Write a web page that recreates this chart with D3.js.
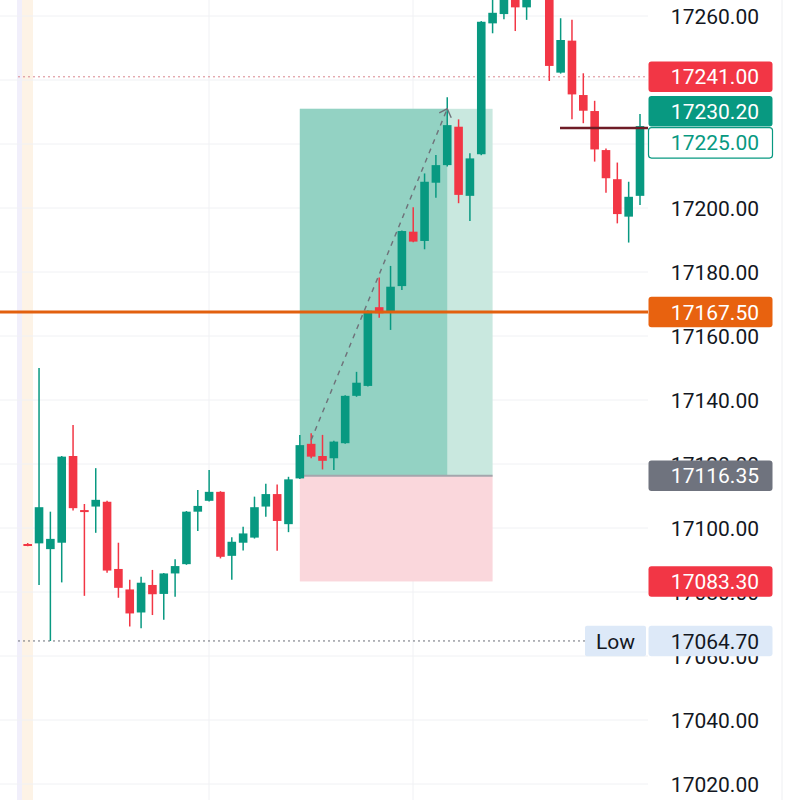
<!DOCTYPE html>
<html><head><meta charset="utf-8">
<script src="https://cdn.jsdelivr.net/npm/d3@7/dist/d3.min.js"></script>
<style>
html,body{margin:0;padding:0;background:#fff;}
svg{display:block;font-family:Roboto,"Noto Sans",sans-serif;}
</style></head>
<body><svg id="c" width="800" height="800"></svg>
<script>
// ---- data ----
const opens  = [17095.0,17095.2,17093.4,17095.4,17122.5,17105.6,17106.7,17108.2,17087.2,17080.8,
                17073.6,17082.2,17079.4,17085.8,17088.7,17105.1,17108.5,17111.3,17091.3,17095.4,
                17097.0,17106.7,17110.6,17101.2,17115.5,17126.3,17122.5,17121.8,17126.5,17141.3,
                17144.4,17169.0,17167.6,17175.6,17192.6,17189.7,17207.9,17213.4,17225.4,17203.8,
                17216.8,17257.7,17260.6,17268.0,17262.7,17272.0,17270.0,17242.3,17252.3,17235.3,
                17230.3,17218.1,17209.0,17197.3,17203.8];
const highs  = [17095.3,17150.0,17105.1,17122.5,17132.2,17107.5,17118.7,17108.5,17095.4,17083.8,
                17084.8,17086.9,17085.9,17090.2,17105.3,17111.9,17118.1,17111.5,17097.1,17100.4,
                17109.8,17113.8,17113.6,17116.0,17129.1,17129.6,17129.1,17127.3,17141.5,17148.8,
                17168.0,17178.3,17181.9,17193.0,17200.2,17210.8,17216.6,17234.6,17227.7,17217.1,
                17258.4,17266.0,17270.0,17272.0,17270.0,17278.0,17272.0,17259.3,17258.8,17242.1,
                17233.5,17218.6,17214.2,17208.2,17229.4];
const lows   = [17094.3,17082.2,17064.7,17083.0,17105.5,17078.8,17098.5,17086.0,17078.2,17069.2,
                17068.7,17072.8,17071.3,17078.5,17088.5,17099.1,17108.3,17090.5,17083.8,17093.0,
                17096.7,17103.5,17092.9,17098.7,17115.3,17121.8,17118.3,17118.1,17126.3,17141.0,
                17144.2,17165.7,17161.9,17174.4,17189.3,17187.1,17203.2,17213.0,17201.5,17195.9,
                17216.5,17254.6,17259.0,17255.3,17258.8,17267.0,17239.7,17242.0,17227.7,17226.5,
                17214.5,17204.8,17195.2,17189.2,17200.9];
const closes = [17094.5,17106.5,17096.6,17122.3,17106.2,17105.0,17108.8,17086.7,17081.3,17073.3,
                17082.9,17079.3,17085.8,17088.1,17105.1,17106.9,17111.3,17091.0,17095.7,17098.3,
                17106.5,17110.6,17102.2,17115.2,17125.9,17122.3,17121.0,17127.0,17141.3,17145.4,
                17167.9,17167.1,17175.4,17192.8,17189.5,17208.2,17213.4,17225.9,17204.1,17215.5,
                17258.2,17261.0,17266.5,17262.7,17266.5,17270.0,17244.4,17252.5,17235.5,17230.4,
                17218.3,17209.3,17198.1,17203.5,17225.6];
const tickValues = [17020,17040,17060,17080,17100,17120,17140,17160,17180,17200,17220,17240,17260];
const tickLabels = ["17020.00","17040.00","17060.00","17080.00","17100.00","17120.00","17140.00","17160.00","17180.00","17200.00","17220.00","17240.00","17260.00"];
// horizontal levels
const orangeLevel = 17167.5;
const sessionHigh = 17241.0;
const lowLevel = 17064.7;
const limitLevel = 17225.0;
// long position tool: start/end/filled-end indices and prices
const posStart = 24, posEnd = 41, posFilledEnd = 37;
const posEntry = 17116.35, posTarget = 17231.0, posStop = 17083.3;
const pathStart = [25, 17127.5], pathEnd = [37, 17231.0];
// price scale labels
const scaleLabels = [
  {v:17241.0,  t:"17241.00", fill:"#f23645", color:"#ffffff", stroke:null},
  {v:17230.2,  t:"17230.20", fill:"#089981", color:"#ffffff", stroke:null},
  {v:17225.0,  t:"17225.00", fill:"#ffffff", color:"#089981", stroke:"#089981"},
  {v:17167.5,  t:"17167.50", fill:"#e8620f", color:"#ffffff", stroke:null},
  {v:17116.35, t:"17116.35", fill:"#6f737e", color:"#ffffff", stroke:null},
  {v:17083.3,  t:"17083.30", fill:"#f23645", color:"#ffffff", stroke:null},
  {v:17064.7,  t:"17064.70", fill:"#dde9f8", color:"#131722", stroke:null}
];

// ---- layout ----
const svg = d3.select("#c");
const plotRight = 648;
const x = d3.scaleLinear().domain([0, 54]).range([27.7, 640]);
const y = d3.scaleLinear().domain([17020, 17260]).range([784, 16]);
const bw = 8.6;

svg.append("defs").append("clipPath").attr("id","clip")
  .append("rect").attr("x",0).attr("y",0).attr("width",plotRight).attr("height",800);

// session band at left
svg.append("rect").attr("x",17).attr("y",0).attr("width",5).attr("height",800).attr("fill","#f1effb");
svg.append("rect").attr("x",22).attr("y",0).attr("width",11).attr("height",800).attr("fill","#fdf3e6");

// grid
const grid = svg.append("g");
grid.selectAll("line.h").data(tickValues).join("line")
  .attr("x1",0).attr("x2",plotRight).attr("y1",d=>y(d)).attr("y2",d=>y(d))
  .attr("stroke","#f0f1f4").attr("stroke-width",1);
[209, 413].forEach(gx=>{
  grid.append("line").attr("x1",gx).attr("x2",gx).attr("y1",0).attr("y2",800)
    .attr("stroke","#f0f1f4").attr("stroke-width",1);
});
svg.append("line").attr("x1",782).attr("x2",782).attr("y1",0).attr("y2",800)
  .attr("stroke","#eeeff2").attr("stroke-width",1);

const plot = svg.append("g").attr("clip-path","url(#clip)");

// position tool
const xs = x(posStart), xe = x(posEnd), xf = x(posFilledEnd);
plot.append("rect").attr("x",xs).attr("y",y(posTarget)).attr("width",xe-xs).attr("height",y(posEntry)-y(posTarget))
  .attr("fill","#c9e8df");
plot.append("rect").attr("x",xs).attr("y",y(posTarget)).attr("width",xf-xs).attr("height",y(posEntry)-y(posTarget))
  .attr("fill","#93d2c3");
plot.append("rect").attr("x",xs).attr("y",y(posEntry)).attr("width",xe-xs).attr("height",y(posStop)-y(posEntry))
  .attr("fill","#fad7dc");
plot.append("line").attr("x1",xs).attr("x2",xe).attr("y1",y(posEntry)).attr("y2",y(posEntry))
  .attr("stroke","#a3a6ad").attr("stroke-width",2);

// dotted level lines
plot.append("line").attr("x1",18).attr("x2",plotRight).attr("y1",y(sessionHigh)).attr("y2",y(sessionHigh))
  .attr("stroke","#d9878f").attr("stroke-width",1).attr("stroke-dasharray","2,3");
plot.append("line").attr("x1",18).attr("x2",585).attr("y1",y(lowLevel)).attr("y2",y(lowLevel))
  .attr("stroke","#6b6f78").attr("stroke-width",1).attr("stroke-dasharray","2,3");

// candles
const idx = d3.range(opens.length);
const col = i => closes[i] >= opens[i] ? "#089981" : "#f23645";
const c = plot.append("g");
c.selectAll("line.w").data(idx).join("line")
  .attr("x1",i=>x(i)).attr("x2",i=>x(i)).attr("y1",i=>y(highs[i])).attr("y2",i=>y(lows[i]))
  .attr("stroke",col).attr("stroke-width",1.5);
c.selectAll("rect.b").data(idx).join("rect")
  .attr("x",i=>x(i)-bw/2).attr("width",bw)
  .attr("y",i=>y(Math.max(opens[i],closes[i])))
  .attr("height",i=>Math.max(2, Math.abs(y(opens[i])-y(closes[i]))))
  .attr("fill",col);

// dashed path of position
plot.append("line").attr("x1",x(pathStart[0])).attr("y1",y(pathStart[1]))
  .attr("x2",x(pathEnd[0])).attr("y2",y(pathEnd[1]))
  .attr("stroke","#6f727a").attr("stroke-width",1.4).attr("stroke-dasharray","5,5");
const ax = x(pathEnd[0]), ay = y(pathEnd[1]);
plot.append("path").attr("d",`M${ax-8},${ay+4} L${ax},${ay} L${ax+4},${ay+9}`)
  .attr("fill","none").attr("stroke","#6f727a").attr("stroke-width",1.4);

// orange line
plot.append("line").attr("x1",0).attr("x2",plotRight).attr("y1",y(orangeLevel)).attr("y2",y(orangeLevel))
  .attr("stroke","#e2600e").attr("stroke-width",2.8);
// limit line
plot.append("line").attr("x1",560).attr("x2",plotRight).attr("y1",y(limitLevel)).attr("y2",y(limitLevel))
  .attr("stroke","#6e1c26").attr("stroke-width",2.5);

// price-scale label positions (stacked to avoid overlap)
const bh = 30.5;
const sorted = scaleLabels.map(d=>({...d, cy:y(d.v)})).sort((a,b)=>a.cy-b.cy);
for (let k=1;k<sorted.length;k++){
  const prevBottom = sorted[k-1].cy + bh/2;
  if (sorted[k].cy - bh/2 < prevBottom + 1) sorted[k].cy = prevBottom + 1 + bh/2;
}
// a tick label that a price label hides completely is not drawn
const hidden = v => sorted.some(d => Math.abs(d.cy - y(v)) < 7);
const shownTicks = tickValues.filter(v => !hidden(v));

// axis
const axis = d3.axisRight(y).tickValues(shownTicks).tickSize(0)
  .tickFormat(d=>tickLabels[tickValues.indexOf(d)]);
const ag = svg.append("g").attr("transform",`translate(${plotRight},0)`).call(axis);
ag.select(".domain").remove();
ag.selectAll("text").attr("x",111).attr("text-anchor","end").attr("dy","0.36em")
  .attr("font-size",21).attr("fill","#131722").attr("font-family","Roboto, sans-serif");

const lg = svg.append("g");
sorted.forEach(d=>{
  lg.append("rect").attr("x",plotRight+0.5).attr("y",d.cy-bh/2).attr("width",124).attr("height",bh)
    .attr("rx",3).attr("fill",d.fill).attr("stroke",d.stroke||"none").attr("stroke-width",1.2);
  lg.append("text").attr("x",plotRight+111).attr("y",d.cy).attr("dy","0.36em").attr("text-anchor","end")
    .attr("font-size",21).attr("fill",d.color).text(d.t);
});
// "Low" tag
const ly = y(lowLevel);
lg.append("rect").attr("x",585).attr("y",ly-bh/2).attr("width",61).attr("height",bh).attr("rx",2).attr("fill","#dde9f8");
lg.append("text").attr("x",615.5).attr("y",ly).attr("dy","0.36em").attr("text-anchor","middle")
  .attr("font-size",21).attr("fill","#131722").text("Low");
</script></body></html>
